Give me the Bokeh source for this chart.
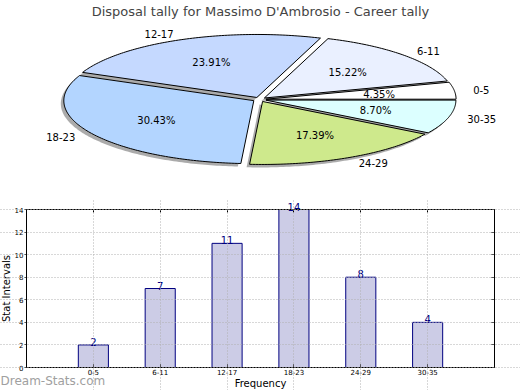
import numpy as np
from bokeh.plotting import figure
from bokeh.layouts import column
from bokeh.models import (Range1d, FactorRange, Label, LinearAxis, CategoricalAxis,
                          ColumnDataSource, FixedTicker)
from bokeh.embed import file_html
from bokeh.resources import INLINE
from bokeh.core.properties import value

# ---------------- data ----------------
title_text = "Disposal tally for Massimo D'Ambrosio - Career tally"
categories = ["0-5", "6-11", "12-17", "18-23", "24-29", "30-35"]
counts = [2, 7, 11, 14, 8, 4]
slice_colors = ["#ffffff", "#eaf0ff", "#c5d9ff", "#b3d5ff", "#cee98c", "#dcffff"]
y_ticks = [0, 2, 4, 6, 8, 10, 12, 14]
x_label = "Frequency"
y_label = "Stat Intervals"
watermark = "Dream-Stats.com"

FONT = "DejaVu Sans"
W = 520

# ---------------- pie (elliptical, exploded) ----------------
PIE_H = 198
RX, RY = 190.0, 63.0           # pixel radii of the ellipse
CX, CY = 259.0, 99.0           # centre in page pixels
TITLE_H = 19.0                 # estimated title panel height
x0 = -CX / RX
x1 = (W - CX) / RX
y1 = (CY - TITLE_H) / RY
y0 = -(PIE_H - CY) / RY

pie = figure(width=W, height=PIE_H, x_range=Range1d(x0, x1), y_range=Range1d(y0, y1),
             x_axis_type=None, y_axis_type=None,
             output_backend="svg", toolbar_location=None, min_border=0)
pie.grid.visible = False
pie.outline_line_color = None
pie.title.text = title_text
pie.title.align = "center"
pie.title.text_font = FONT
pie.title.text_font_size = "13px"
pie.title.text_font_style = "normal"
pie.title.standoff = 2

vals = np.array(counts, dtype=float)
frac = vals / vals.sum()
ends = np.cumsum(frac) * 2 * np.pi
starts = ends - frac * 2 * np.pi
mids = (starts + ends) / 2
explode = 0.035
ox = explode * np.cos(mids)
oy = explode * np.sin(mids)

xs, ys = [], []
for i in range(len(counts)):
    t = np.linspace(starts[i], ends[i], max(int(frac[i] * 400), 10))
    xs.append(np.concatenate([[ox[i]], ox[i] + np.cos(t)]).tolist())
    ys.append(np.concatenate([[oy[i]], oy[i] + np.sin(t)]).tolist())

sdx, sdy = -3.0 / RX, -3.0 / RY
pie.patches(xs=[[v + sdx for v in a] for a in xs], ys=[[v + sdy for v in a] for a in ys],
            fill_color="#666666", fill_alpha=0.55, line_color=None)
pie.patches(xs=xs, ys=ys, fill_color=slice_colors, line_color="black", line_width=1)

lx = ox + 1.1 * np.cos(mids)
ly = oy + 1.1 * np.sin(mids)
right = lx > 0
for mask, align in ((right, "left"), (~right, "right")):
    src = ColumnDataSource(dict(x=lx[mask], y=ly[mask],
                                t=[c for c, m in zip(categories, mask) if m]))
    pie.text(x="x", y="y", text="t", source=src, text_align=align, text_baseline="middle",
             text_font=value(FONT), text_font_size="10px", text_color="black")

px = ox + 0.6 * np.cos(mids)
py = oy + 0.6 * np.sin(mids)
pct = ["%.2f%%" % (f * 100) for f in frac]
pie.text(x=px, y=py, text=pct, text_align="center", text_baseline="middle",
         text_font=value(FONT), text_font_size="10px", text_color="black")

# ---------------- bar chart ----------------
BAR_H = 192
BOX_TOP, BOX_BOT = 209.0, 367.0             # page rows of y=14 and y=0
PX_PER_Y = (BOX_BOT - BOX_TOP) / (y_ticks[-1] - y_ticks[0])
Y_TOP = y_ticks[-1] + (BOX_TOP - (390 - BAR_H)) / PX_PER_Y
Y_BOT = y_ticks[0] - (390 - BOX_BOT) / PX_PER_Y
PX_PER_X = (493 - 25) / 7.0
PAD = (W / PX_PER_X - len(categories)) / 2
BOX_L, BOX_R = -0.5, len(categories) + 0.5   # box edges, one slot beyond the outer bars

bar = figure(width=W, height=BAR_H,
             x_range=FactorRange(factors=categories, range_padding=PAD,
                                 range_padding_units="absolute"),
             y_range=Range1d(Y_BOT, Y_TOP),
             output_backend="svg", toolbar_location=None, min_border=0)
bar.outline_line_color = None

src = ColumnDataSource(dict(cat=categories, n=counts, lab=[str(c) for c in counts]))
bar.vbar(x="cat", top="n", width=0.45, source=src, fill_color="#ccccE6",
         line_color="navy", line_width=1)
bar.text(x="cat", y="n", text="lab", source=src, text_align="center",
         text_baseline="bottom", text_font=value(FONT), text_font_size="10px",
         text_color="navy", y_offset=1)

for g in (bar.xgrid, bar.ygrid):
    g.grid_line_color = "#b0b0b0"
    g.grid_line_dash = "1 2"
    g.level = "overlay"
bar.ygrid.ticker = FixedTicker(ticks=y_ticks)
bar.xgrid.bounds = (y_ticks[0], y_ticks[-1])
bar.ygrid.bounds = (BOX_L, BOX_R)

xa = bar.xaxis[0]
ya = bar.yaxis[0]
ya.ticker = FixedTicker(ticks=y_ticks)
for ax in (xa, ya):
    ax.major_label_text_font = FONT
    ax.major_label_text_font_size = "7px"
    ax.major_label_text_color = "black"
    ax.axis_label_text_font = FONT
    ax.axis_label_text_font_size = "10px"
    ax.axis_label_text_font_style = "normal"
    ax.axis_label_text_color = "black"
    ax.axis_label_standoff = 0
    ax.major_label_standoff = 1
    ax.minor_tick_line_color = None
    ax.axis_line_color = "black"
    ax.major_tick_line_color = "black"
ya.axis_label = y_label
xa.axis_label = x_label
ya.fixed_location = BOX_L
ya.bounds = (y_ticks[0], y_ticks[-1])
xa.fixed_location = y_ticks[0]
xa.bounds = (BOX_L, BOX_R)
ya.major_tick_out = 2
ya.major_tick_in = 0
xa.major_tick_out = 0
xa.major_tick_in = 3

rax = LinearAxis(ticker=FixedTicker(ticks=y_ticks), major_label_text_color=None,
                 major_tick_in=3, major_tick_out=0, minor_tick_line_color=None,
                 axis_line_color="black", fixed_location=BOX_R,
                 bounds=(y_ticks[0], y_ticks[-1]))
bar.add_layout(rax, "right")
tax = CategoricalAxis(major_label_text_color=None, major_tick_in=3, major_tick_out=0,
                      axis_line_color="black", fixed_location=y_ticks[-1],
                      bounds=(BOX_L, BOX_R))
bar.add_layout(tax, "above")

bar.add_layout(Label(x=0, y=10, x_units="screen", y_units="screen", text=watermark,
                     text_font=FONT, text_font_size="12px", text_color="#a0a0a0",
                     text_baseline="middle"))

layout = column(pie, bar, spacing=0)
open("out.html", "w").write(file_html(layout, INLINE))
